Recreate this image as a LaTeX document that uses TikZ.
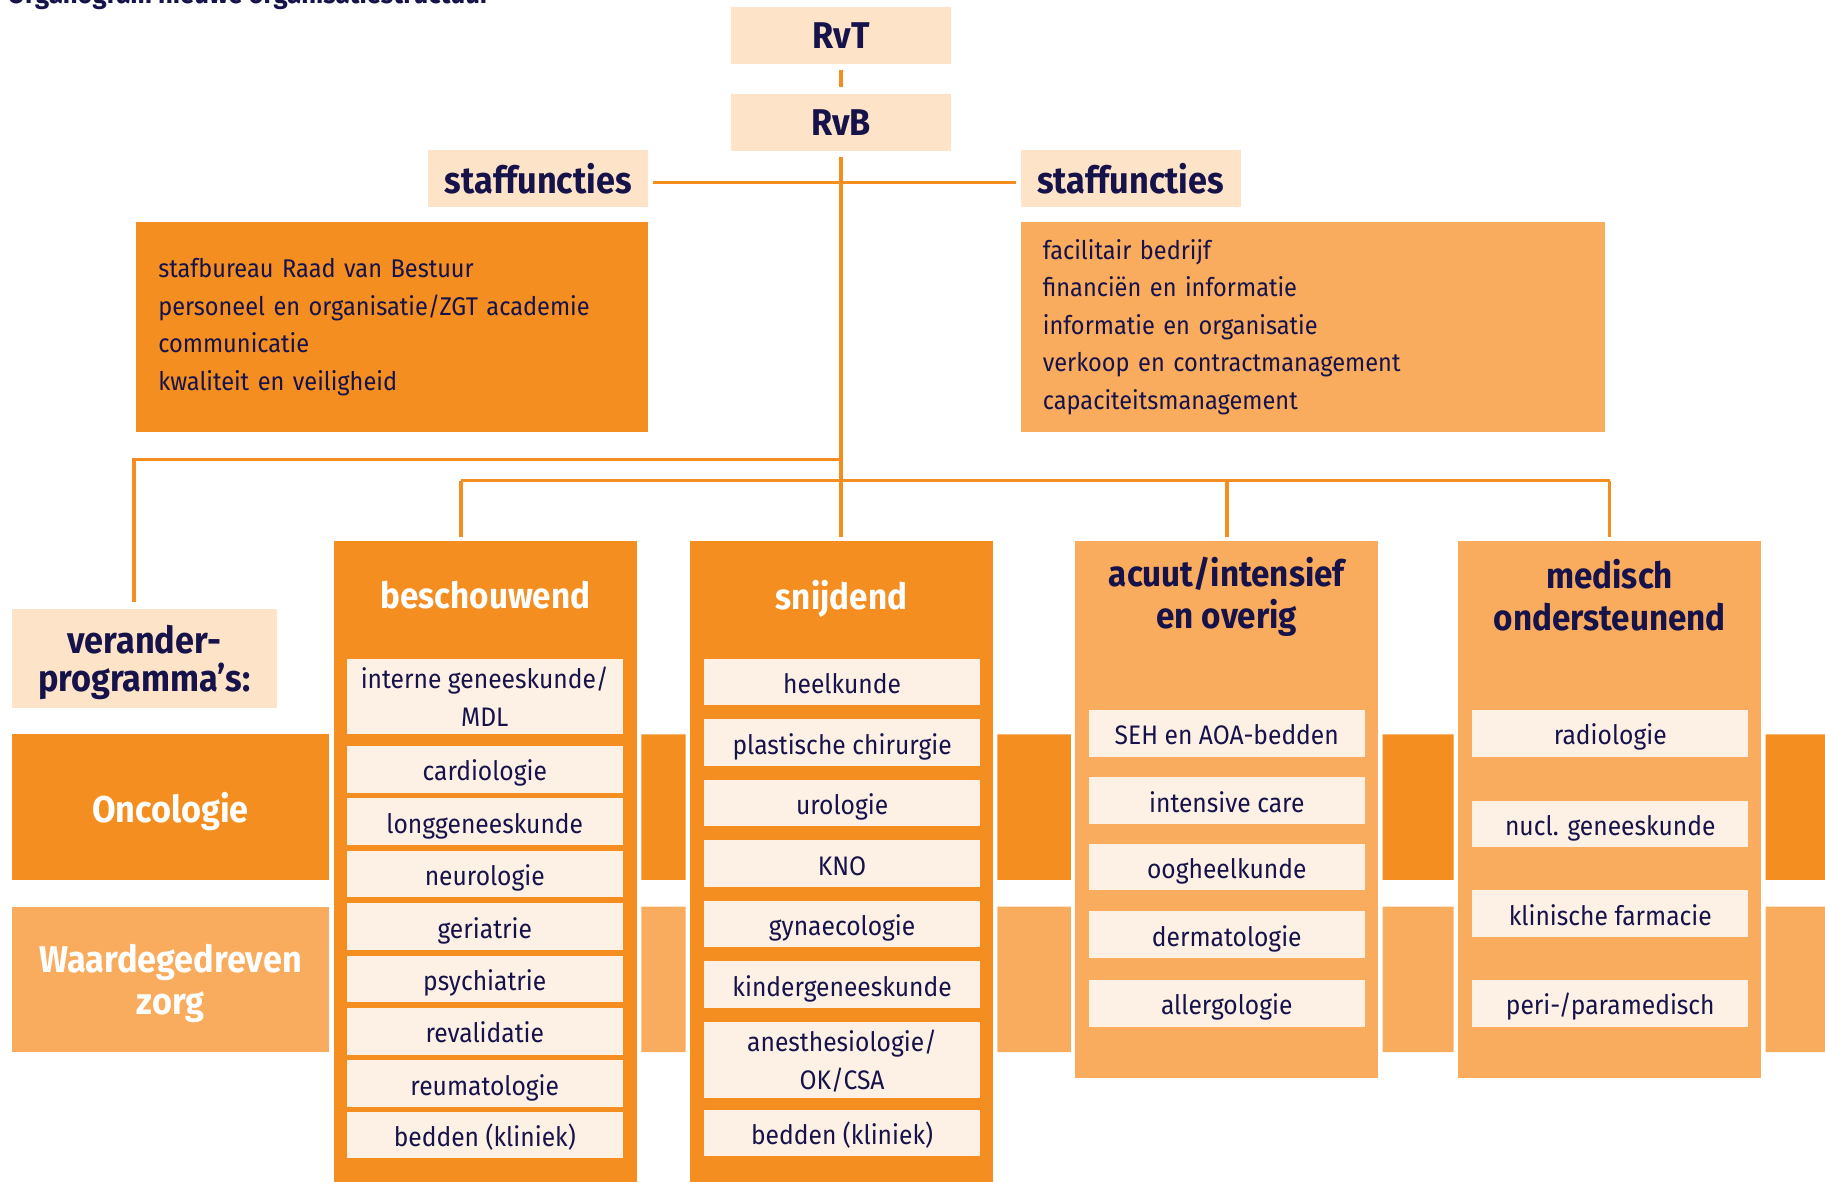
\documentclass[tikz,border=0pt]{standalone}
\usepackage{fontspec}
\setmainfont{Fira Sans}[FakeStretch=0.92]
\usepackage{tikz}
\usetikzlibrary{positioning}

\definecolor{oranje}{HTML}{F48E21}
\definecolor{licht}{HTML}{F9AC5E}
\definecolor{perzik}{HTML}{FDE3C8}
\definecolor{room}{HTML}{FDF1E6}
\definecolor{navy}{HTML}{16124A}

\begin{document}
\begin{tikzpicture}[x=0.5pt, y=-0.5pt,
    lijn/.style={draw=oranje, line width=1.5pt},
    kop/.style={fill=perzik, text=navy, inner sep=0pt, minimum width=94.5pt, minimum height=24.5pt, font=\bfseries\fontsize{16}{18}\selectfont},
    lijst/.style={text=navy, inner xsep=9.5pt, inner ysep=0pt, minimum height=90.5pt, align=left, font=\fontsize{11}{16.1}\selectfont},
    band/.style={text=white, inner sep=0pt, minimum width=136.5pt, minimum height=62.5pt, align=center, font=\bfseries\fontsize{16}{18}\selectfont},
    kolom/.style={inner sep=0pt, minimum width=130pt},
    koptekst/.style={inner sep=0pt, align=center, font=\bfseries\fontsize{15.5}{18}\selectfont},
    item/.style={fill=room, text=navy, inner sep=0pt, minimum width=118.5pt, minimum height=20pt, text height=10pt, text depth=0pt, align=center, font=\fontsize{11.5}{16}\selectfont},
    hoog/.style={minimum height=32.5pt, text height=, text depth=0pt}]
    \useasboundingbox (0,0) rectangle (1568,1015);

    % titel, valt grotendeels buiten de pagina
    \node[anchor=base west, text=navy, inner sep=0pt, font=\bfseries\fontsize{12}{14}\selectfont] at (6,3) (titel) {Organogram nieuwe organisatiestructuur};

    % top
    \node[kop] at (722.5,30.5) (rvt) {RvT};
    \node[kop] at (722.5,105) (rvb) {RvB};
    \node[kop] at (462.5,153.5) (staflinks) {staffuncties};
    \node[kop] at (971.5,153.5) (stafrechts) {staffuncties};

    \node[lijst, fill=oranje, text width=201pt] at (337,281) (stafbureau) {stafbureau Raad van Bestuur\\personeel en organisatie/ZGT academie\\communicatie\\kwaliteit en veiligheid};
    \node[lijst, fill=licht, text width=232pt] at (1128,281) (bedrijf) {facilitair bedrijf\\financiën en informatie\\informatie en organisatie\\verkoop en contractmanagement\\capaciteitsmanagement};

    % veranderprogramma's
    \node[kop, minimum width=114pt, minimum height=42.5pt, align=center, text depth=0pt, font=\bfseries\fontsize{16}{16.5}\selectfont] at (124,565.5) (verander) {verander-\\programma’s:};
    \node[band, fill=oranje, text depth=0pt] at (146.5,693.5) (onco) {Oncologie};
    \node[band, fill=licht, text depth=-3pt] at (146.5,841.5) (waarde) {Waardegedreven\\zorg};
    \fill[oranje] (551,631) rectangle (589,756) (857,631) rectangle (920,756)
        (1188,631) rectangle (1249,756) (1517,631) rectangle (1580,756);
    \fill[licht] (551,779) rectangle (589,904) (857,779) rectangle (920,904)
        (1188,779) rectangle (1249,904) (1517,779) rectangle (1580,904);

    % kolommen
    \node[kolom, fill=oranje, minimum height=280pt] at (417,745) (beschouwend) {};
    \node[kolom, fill=oranje, minimum height=280pt] at (723,745) (snijdend) {};
    \node[kolom, fill=licht, minimum height=230.5pt] at (1054,695.5) (acuut) {};
    \node[kolom, fill=licht, minimum height=230.5pt] at (1383,695.5) (medisch) {};

    \node[koptekst, text=white] at (417,511) (beschouwendkop) {beschouwend};
    \node[koptekst, text=white, text depth=0pt] at (723,511) (snijdendkop) {snijdend};
    \node[koptekst, text=navy] at (1054,512.5) (acuutkop) {acuut/intensief\\en overig};
    \node[koptekst, text=navy] at (1383,511) (medischkop) {medisch\\ondersteunend};

    % beschouwend
    \node[item, hoog] at (416.5,598.5) (interne) {interne geneeskunde/\\MDL};
    \node[item] at (416.5,661) (cardio) {cardiologie};
    \node[item] at (416.5,706) (long) {longgeneeskunde};
    \node[item] at (416.5,751) (neuro) {neurologie};
    \node[item] at (416.5,796) (geria) {geriatrie};
    \node[item] at (416.5,841) (psych) {psychiatrie};
    \node[item] at (416.5,886) (reva) {revalidatie};
    \node[item] at (416.5,931) (reuma) {reumatologie};
    \node[item] at (416.5,975) (beddenb) {bedden (kliniek)};

    % snijdend
    \node[item] at (723.5,586) (heel) {heelkunde};
    \node[item] at (723.5,638) (plast) {plastische chirurgie};
    \node[item] at (723.5,690) (uro) {urologie};
    \node[item] at (723.5,742) (kno) {KNO};
    \node[item] at (723.5,794) (gyn) {gynaecologie};
    \node[item] at (723.5,846) (kind) {kindergeneeskunde};
    \node[item, hoog] at (723.5,910.5) (anest) {anesthesiologie/\\OK/CSA};
    \node[item] at (723.5,973.5) (beddens) {bedden (kliniek)};

    % acuut/intensief
    \node[item] at (1054,630) (seh) {SEH en AOA-bedden};
    \node[item] at (1054,688) (ic) {intensive care};
    \node[item] at (1054,745) (oog) {oogheelkunde};
    \node[item] at (1054,803) (derma) {dermatologie};
    \node[item] at (1054,862) (allergo) {allergologie};

    % medisch ondersteunend
    \node[item] at (1383.5,630) (radio) {radiologie};
    \node[item] at (1383.5,708) (nucl) {nucl. geneeskunde};
    \node[item] at (1383.5,785) (farma) {klinische farmacie};
    \node[item] at (1383.5,862) (para) {peri-/paramedisch};

    % lijnen
    \coordinate (knooplinks) at (722,395);
    \coordinate (knooprechts) at (722,413);
    \draw[lijn, shorten <=2.5pt, shorten >=2.5pt] (rvt) -- (rvb);
    \draw[lijn, shorten <=2.5pt, shorten >=1.5pt] (rvb.south) -- (rvb.south |- snijdend.north);
    \draw[lijn, shorten <=2pt, shorten >=2pt] ([yshift=-1.75pt]staflinks.east) -- ([yshift=-1.75pt]stafrechts.west);
    \draw[lijn, shorten >=2.5pt] (knooplinks) -| ([xshift=-4.5pt]verander.north);
    \draw[lijn] ([xshift=-10.5pt]beschouwend.north |- knooprechts) -- (medisch.north |- knooprechts);
    \draw[lijn, shorten >=1.5pt] ([xshift=-10.5pt]beschouwend.north |- knooprechts) -- ([xshift=-10.5pt]beschouwend.north);
    \draw[lijn, shorten >=1.5pt] (acuut.north |- knooprechts) -- (acuut.north);
    \draw[lijn, shorten >=1.5pt] (medisch.north |- knooprechts) -- (medisch.north);
\end{tikzpicture}
\end{document}
